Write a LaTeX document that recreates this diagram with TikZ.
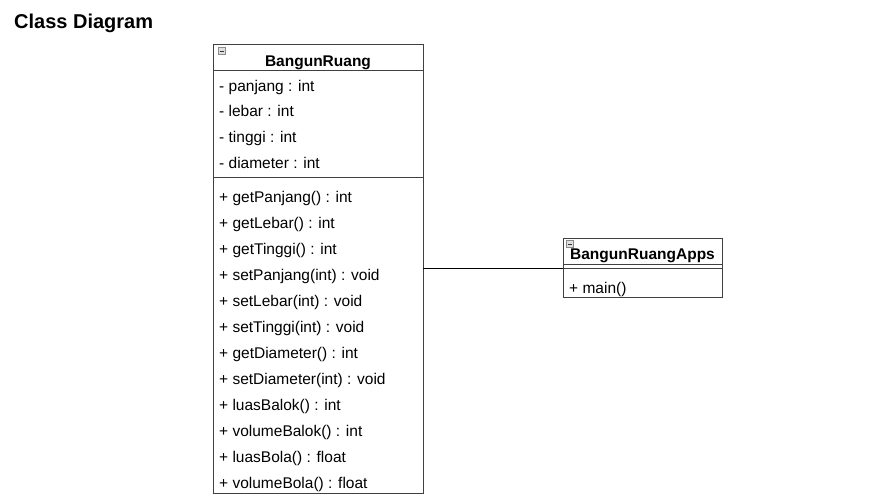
\documentclass[tikz,border=0pt]{standalone}
\usepackage{fontspec}
\setmainfont{Liberation Sans}
\begin{document}
\begin{tikzpicture}[x=1pt,y=-1pt,
  box/.style={draw=black!75, line width=0.9pt},
  sep/.style={draw=black!75, line width=0.8pt},
  member/.style={anchor=base west, inner sep=0pt, font=\fontsize{15.5}{17}\selectfont},
  cname/.style={anchor=base, inner sep=0pt, font=\fontsize{15.5}{17}\selectfont\bfseries},
  icon/.style={draw=black!45, fill=black!12, line width=0.4pt, minimum size=7pt, inner sep=0pt,
    path picture={\draw[black!80, line width=0.8pt] ([xshift=1.2pt]path picture bounding box.west) -- ([xshift=-1.2pt]path picture bounding box.east);}},
  conn/.style={draw=black, line width=0.9pt}]
\useasboundingbox (0,0) rectangle (871,498);
\fill[white] (0,0) rectangle (871,498);
\node[anchor=base west, inner sep=0pt, font=\fontsize{20}{22}\selectfont\bfseries] (title) at (14,28) {Class Diagram};
% BangunRuang
\draw[box] (213,44) rectangle (423,493);
\coordinate (brE) at (423,268);
\draw[sep] (213,70) -- (423,70);
\draw[sep] (213,177) -- (423,177);
\node[icon] (ic1) at (222,51) {};
\node[cname] (brname) at (318,66) {BangunRuang};
\foreach \t/\y [count=\i] in {{- panjang : int}/86,{- lebar : int}/111,{- tinggi : int}/137,{- diameter : int}/163}
  \node[member] (a\i) at (219,\y+5.5) {\t};
\foreach \t/\y [count=\i] in {{+ getPanjang() : int}/197,{+ getLebar() : int}/223,{+ getTinggi() : int}/249,{+ setPanjang(int) : void}/275,{+ setLebar(int) : void}/301,{+ setTinggi(int) : void}/327,{+ getDiameter() : int}/353,{+ setDiameter(int) : void}/379,{+ luasBalok() : int}/405,{+ volumeBalok() : int}/431,{+ luasBola() : float}/457,{+ volumeBola() : float}/483}
  \node[member] (m\i) at (219,\y+5.5) {\t};
% BangunRuangApps
\draw[box] (563,238) rectangle (722,297);
\coordinate (appW) at (563,268);
\draw[sep] (563,264) -- (722,264);
\draw[sep] (563,268) -- (722,268);
\node[icon] (ic2) at (570,244) {};
\node[cname] (appname) at (642.5,259.5) {BangunRuangApps};
\node[member] (main) at (569,293.5) {+ main()};
\draw[conn] (brE) -- (appW);
\end{tikzpicture}
\end{document}
